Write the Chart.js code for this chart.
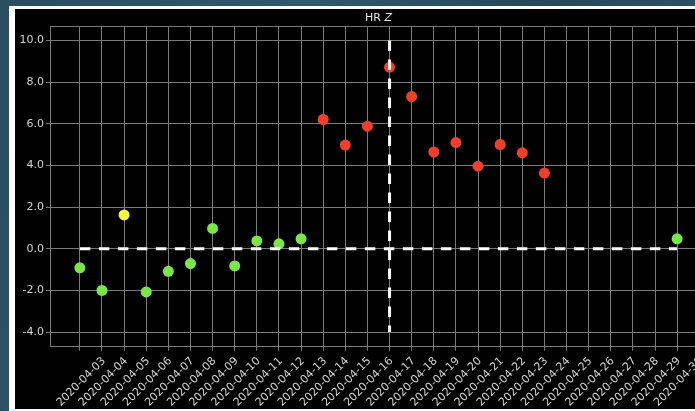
<!DOCTYPE html>
<html>
<head>
<meta charset="utf-8">
<script src="https://cdn.jsdelivr.net/npm/chart.js@4"></script>
<style>
  html, body { margin: 0; padding: 0; width: 695px; height: 411px; overflow: hidden; }
  body { background: linear-gradient(100deg, #2a4e60 0%, #2f5a6c 40%, #27495a 70%, #2d5466 100%); position: relative; }
  #frame {
    position: absolute; left: 9px; top: 6px;
    border-left: 6px solid #ffffff; border-top: 3px solid #ffffff; border-bottom: 2px solid #ffffff;
    background: #000000; width: 700px; height: 400px;
  }
  canvas { display: block; }
</style>
</head>
<body>
<div id="frame"><canvas id="chart" width="700" height="400"></canvas></div>
<script>
// Daily tick labels along the x axis
const dateLabels = [
  '2020-04-03','2020-04-04','2020-04-05','2020-04-06','2020-04-07','2020-04-08','2020-04-09',
  '2020-04-10','2020-04-11','2020-04-12','2020-04-13','2020-04-14','2020-04-15','2020-04-16',
  '2020-04-17','2020-04-18','2020-04-19','2020-04-20','2020-04-21','2020-04-22','2020-04-23',
  '2020-04-24','2020-04-25','2020-04-26','2020-04-27','2020-04-28','2020-04-29','2020-04-30'
];

// Days with a heart-rate Z score, and the scores
const zDates = [
  '2020-04-03','2020-04-04','2020-04-05','2020-04-06','2020-04-07','2020-04-08','2020-04-09',
  '2020-04-10','2020-04-11','2020-04-12','2020-04-13','2020-04-14','2020-04-15','2020-04-16',
  '2020-04-17','2020-04-18','2020-04-19','2020-04-20','2020-04-21','2020-04-22','2020-04-23',
  '2020-04-24','2020-04-30'
];
const zValues = [
  -0.91, -2.00, 1.63, -2.07, -1.08, -0.71, 0.98,
  -0.82, 0.38, 0.24, 0.48, 6.21, 4.98, 5.89,
  8.72, 7.31, 4.65, 5.10, 3.97, 5.01, 4.61,
  3.64, 0.48
];

// Y axis tick values
const yTicks = [-4, -2, 0, 2, 4, 6, 8, 10];

// Reference lines: zero baseline and the peak day
const baselineValue = 0;
const peakDate = '2020-04-17';
const peakSpan = [-4, 10];

const dayIndex = d => dateLabels.indexOf(d);

function zColor(v) {
  if (v >= 3) return '#f0402a';
  if (v >= 1.5) return '#f8f43a';
  return '#7ae64a';
}

const gridColor = '#7a7a7a';
const textColor = '#d2d2d2';
const font = { family: 'DejaVu Sans', size: 11 };

const titlePlugin = {
  id: 'hrTitle',
  afterDraw(chart) {
    const ctx = chart.ctx;
    const area = chart.chartArea;
    ctx.save();
    // top spine
    ctx.strokeStyle = gridColor;
    ctx.lineWidth = 1;
    ctx.beginPath();
    ctx.moveTo(area.left, Math.round(area.top) + 0.5);
    ctx.lineTo(area.right, Math.round(area.top) + 0.5);
    ctx.stroke();
    // title: "HR " upright, "Z" italic
    ctx.fillStyle = '#e6e6e6';
    ctx.textBaseline = 'middle';
    const a = 'HR ', b = 'Z';
    ctx.font = '11px "DejaVu Sans"';
    const wa = ctx.measureText(a).width;
    ctx.font = 'italic 11px "DejaVu Sans"';
    const wb = ctx.measureText(b).width;
    const cx = (area.left + area.right) / 2;
    const x0 = cx - (wa + wb) / 2;
    const y = 9;
    ctx.font = '11px "DejaVu Sans"';
    ctx.textAlign = 'left';
    ctx.fillText(a, x0, y);
    ctx.font = 'italic 11px "DejaVu Sans"';
    ctx.fillText(b, x0 + wa, y);
    ctx.restore();
  }
};

new Chart(document.getElementById('chart'), {
  type: 'scatter',
  data: {
    datasets: [
      {
        type: 'line',
        data: [{ x: 0, y: baselineValue }, { x: dateLabels.length - 1, y: baselineValue }],
        borderColor: '#ffffff',
        borderWidth: 3,
        borderDash: [10.5, 8.5],
        pointRadius: 0,
        fill: false,
        order: 0
      },
      {
        type: 'line',
        data: [{ x: dayIndex(peakDate), y: peakSpan[1] }, { x: dayIndex(peakDate), y: peakSpan[0] }],
        borderColor: '#ffffff',
        borderWidth: 3,
        borderDash: [10.5, 8.5],
        pointRadius: 0,
        fill: false,
        order: 0
      },
      {
        data: zDates.map((d, i) => ({ x: dayIndex(d), y: zValues[i] })),
        pointRadius: 5.5,
        pointBorderWidth: 0,
        pointBackgroundColor: ctx => zColor(ctx.raw ? ctx.raw.y : 0),
        order: 1
      }
    ]
  },
  options: {
    responsive: false,
    devicePixelRatio: 1,
    animation: false,
    layout: { padding: { top: 17, left: 0, right: 8, bottom: 0 } },
    plugins: { legend: { display: false }, tooltip: { enabled: false }, title: { display: false } },
    scales: {
      x: {
        type: 'linear',
        min: -1.35,
        max: dateLabels.length - 1 + 1.35,
        afterBuildTicks: s => { s.ticks = dateLabels.map((_, i) => ({ value: i })); },
        afterFit: s => { s.height = 62.3; s.paddingLeft = 0; s.paddingRight = 0; },
        grid: { color: gridColor, lineWidth: 1, tickLength: 4 },
        border: { display: true, color: gridColor, width: 1 },
        ticks: {
          autoSkip: false,
          minRotation: 45,
          maxRotation: 45,
          labelOffset: 24,
          padding: 4,
          color: textColor,
          font: font,
          callback: v => dateLabels[v]
        }
      },
      y: {
        min: -4.7,
        max: 10.7,
        afterBuildTicks: s => { s.ticks = yTicks.map(v => ({ value: v })); },
        afterFit: s => { s.width = 35; },
        grid: { color: gridColor, lineWidth: 1, tickLength: 4 },
        border: { display: true, color: gridColor, width: 1 },
        ticks: {
          color: textColor,
          font: font,
          padding: 2,
          callback: v => v.toFixed(1)
        }
      }
    }
  },
  plugins: [titlePlugin]
});
</script>
</body>
</html>
